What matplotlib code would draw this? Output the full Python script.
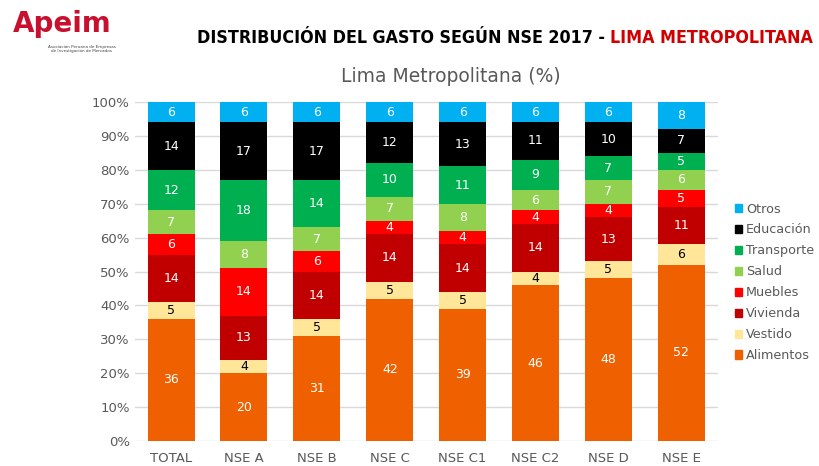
import numpy as np
import matplotlib.pyplot as plt
from matplotlib.patches import Patch

# Categorias y series (de abajo hacia arriba)
categorias = ["TOTAL", "NSE A", "NSE B", "NSE C", "NSE C1", "NSE C2", "NSE D", "NSE E"]
series = ["Alimentos", "Vestido", "Vivienda", "Muebles", "Salud", "Transporte", "Educación", "Otros"]

alimentos = [36, 20, 31, 42, 39, 46, 48, 52]
vestido = [5, 4, 5, 5, 5, 4, 5, 6]
vivienda = [14, 13, 14, 14, 14, 14, 13, 11]
muebles = [6, 14, 6, 4, 4, 4, 4, 5]
salud = [7, 8, 7, 7, 8, 6, 7, 6]
transporte = [12, 18, 14, 10, 11, 9, 7, 5]
educacion = [14, 17, 17, 12, 13, 11, 10, 7]
otros = [6, 6, 6, 6, 6, 6, 6, 8]

valores = [alimentos, vestido, vivienda, muebles, salud, transporte, educacion, otros]
colores = ["#EE6000", "#FFE699", "#C00000", "#FF0000", "#92D050", "#00B050", "#000000", "#00B0F0"]
color_texto = ["white", "black", "white", "white", "white", "white", "white", "white"]

fig = plt.figure(figsize=(8.19, 4.66), dpi=100)
ax = fig.add_axes([0.1644, 0.0536, 0.712, 0.7275])

x = np.arange(len(categorias))
base = np.zeros(len(categorias))
for vals, col, tc in zip(valores, colores, color_texto):
    vals = np.array(vals, dtype=float)
    ax.bar(x, vals, width=0.645, bottom=base, color=col, zorder=3)
    for xi, b, v in zip(x, base, vals):
        ax.text(xi, b + v / 2, f"{int(v)}", ha="center", va="center",
                color=tc, fontsize=9, zorder=4)
    base += vals

ax.set_xlim(-0.5, len(categorias) - 0.5)
ax.set_ylim(0, 100)
ax.set_yticks(np.arange(0, 101, 10))
ax.set_yticklabels([f"{v}%" for v in range(0, 101, 10)])
ax.set_xticks(x)
ax.set_xticklabels(categorias)
ax.tick_params(axis="both", length=0, labelsize=9.5, colors="#595959")
ax.tick_params(axis="x", pad=8)
ax.grid(axis="y", color="#D9D9D9", linewidth=1, zorder=0)
for s in ax.spines.values():
    s.set_visible(False)

# leyenda (orden inverso)
handles = [Patch(color=c) for c in colores[::-1]]
fig.legend(handles, series[::-1], loc="upper left", bbox_to_anchor=(0.883, 0.59),
           frameon=False, fontsize=9.2, handlelength=0.6, handleheight=0.6,
           handletextpad=0.3, labelspacing=0.62, labelcolor="#595959")

# titulos
fig.text(0.55, 0.835, "Lima Metropolitana (%)", ha="center", va="center",
         fontsize=13.5, color="#595959")

# titulo principal: ajustar el tamaño para que ocupe de x=197 a x=812 px
x0, x1 = 197, 812
fs = 14.5
for _ in range(3):
    t1 = fig.text(x0 / 819, 0.918, "DISTRIBUCIÓN DEL GASTO SEGÚN NSE 2017 - ", ha="left",
                  va="center", fontsize=fs, fontweight="bold", fontstretch="condensed",
                  color="black")
    t2 = fig.text(0, 0.918, "LIMA METROPOLITANA", ha="left", va="center",
                  fontsize=fs, fontweight="bold", fontstretch="condensed", color="#D00000")
    fig.canvas.draw()
    w = t1.get_window_extent().width + t2.get_window_extent().width
    t1.remove()
    t2.remove()
    fs = fs * (x1 - x0) / w

t1 = fig.text(x0 / 819, 0.918, "DISTRIBUCIÓN DEL GASTO SEGÚN NSE 2017 - ", ha="left",
              va="center", fontsize=fs, fontweight="bold", fontstretch="condensed",
              color="black")
fig.canvas.draw()
bb = t1.get_window_extent()
fig.text(bb.x1 / 819, 0.918, "LIMA METROPOLITANA", ha="left", va="center",
         fontsize=fs, fontweight="bold", fontstretch="condensed", color="#D00000")

# logo
fig.text(0.016, 0.948, "Apeim", ha="left", va="center", fontsize=20,
         fontweight="bold", color="#C8102E")
fig.text(0.1, 0.895, "Asociación Peruana de Empresas\nde Investigación de Mercados",
         ha="center", va="center", fontsize=3, color="#444444", linespacing=1.1)

fig.savefig("out.png", dpi=100)
